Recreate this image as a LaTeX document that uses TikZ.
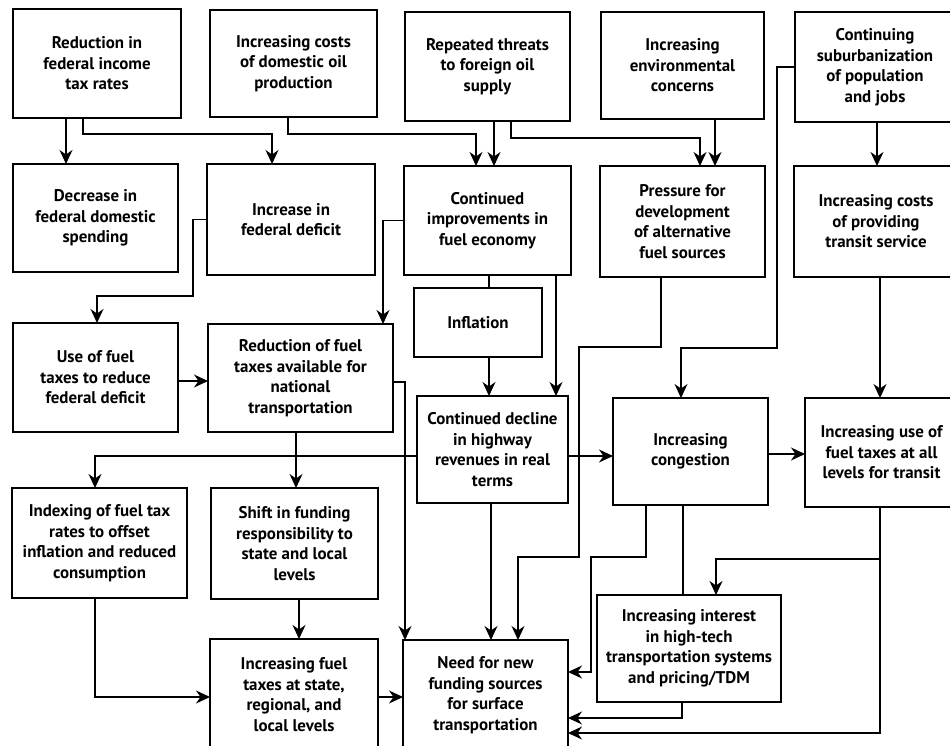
\documentclass[tikz,border=0pt]{standalone}
\usepackage{fontspec}
\setmainfont{PT Sans}
\usetikzlibrary{arrows.meta,shadows}
\newcommand\bx[6]{\node[box, minimum width={(#4-#2)*1pt}, minimum height={(#5-#3)*1pt}] (#1) at ({(#2+#4)/2},{(#3+#5)/2}) {#6};}
\begin{document}
\begin{tikzpicture}[x=1pt,y=-1pt,
 box/.style={draw, line width=1.3pt, fill=white, inner sep=1pt, outer sep=0pt, align=center,
   font=\bfseries\fontsize{16.9}{20.5}\selectfont,
   general shadow={fill=black, shadow xshift=1.2pt, shadow yshift=-1.2pt}},
 arr/.style={line width=1.3pt, -{Stealth[length=14pt,width=13pt,inset=4.5pt]}},
 ln/.style={line width=1.3pt}]
\fill[white] (0,0) rectangle (950,746);
\useasboundingbox (0,0) rectangle (950,746);
% row 1
\bx{A1}{13}{9}{181}{118}{Reduction in\\federal income\\tax rates}
\bx{A2}{210}{10}{377}{117}{Increasing costs\\of domestic oil\\production}
\bx{A3}{405}{12}{570}{121}{Repeated threats\\to foreign oil\\supply}
\bx{A4}{601}{12}{764}{119}{Increasing\\environmental\\concerns}
\bx{A5}{795}{12}{955}{122}{Continuing\\suburbanization\\of population\\and jobs}
% row 2
\bx{B1}{13}{164}{178}{272}{Decrease in\\federal domestic\\spending}
\bx{B2}{207}{164}{375}{275}{Increase in\\federal deficit}
\bx{B3}{404}{166}{571}{275}{Continued\\improvements in\\fuel economy}
\bx{B4}{600}{166}{765}{277}{Pressure for\\development\\of alternative\\fuel sources}
\bx{B5}{794}{166}{958}{277}{Increasing costs\\of providing\\transit service}
\bx{IN}{414}{288}{542}{357}{Inflation}
% row 3
\bx{C1}{13}{323}{178}{432}{Use of fuel\\taxes to reduce\\federal deficit}
\bx{C2}{208}{324}{393}{432}{Reduction of fuel\\taxes available for\\national\\transportation}
\bx{C3}{417}{396}{568}{503}{Continued decline\\in highway\\revenues in real\\terms}
\bx{C4}{613}{398}{768}{505}{Increasing\\congestion}
\bx{C5}{805}{398}{958}{507}{Increasing use of\\fuel taxes at all\\levels for transit}
% row 4
\bx{D1}{12}{488}{187}{598}{Indexing of fuel tax\\rates to offset\\inflation and reduced\\consumption}
\bx{D2}{211}{488}{378}{599}{Shift in funding\\responsibility to\\state and local\\levels}
% row 5
\bx{E1}{210}{639}{378}{750}{Increasing fuel\\taxes at state,\\regional, and\\local levels}
\bx{E2}{403}{640}{568}{750}{Need for new\\funding sources\\for surface\\transportation}
\bx{E3}{597}{595}{781}{702}{Increasing interest\\in high-tech\\transportation systems\\and pricing/TDM}
% connectors
\draw[arr] (66,0 |- A1.south) -- (66,0 |- B1.north);
\draw[arr] (83,0 |- A1.south) -- (83,134) -- (272,134) -- (272,0 |- B2.north);
\draw[arr] (288,0 |- A2.south) -- (288,134) -- (476,134) -- (476,0 |- B3.north);
\draw[arr] (494,0 |- A3.south) -- (494,0 |- B3.north);
\draw[arr] (511,0 |- A3.south) -- (511,138) -- (700,138) -- (700,0 |- B4.north);
\draw[arr] (715,0 |- A4.south) -- (715,0 |- B4.north);
\draw[arr] (877,0 |- A5.south) -- (877,0 |- B5.north);
\draw[arr] (A5.west) -- (777,0 |- A5.west) -- (777,348) -- (681,348) -- (681,0 |- C4.north);
\draw[arr] (B2.west) -- (193,0 |- B2.west) -- (193,296) -- (97,296) -- (97,0 |- C1.north);
\draw[arr] (B3.west) -- (383,0 |- B3.west) -- (383,0 |- C2.north);
\draw[ln] (489,0 |- B3.south) -- (489,0 |- IN.north);
\draw[arr] (489,0 |- IN.south) -- (489,0 |- C3.north);
\draw[arr] (556,0 |- B3.south) -- (556,0 |- C3.north);
\draw[arr] (661,0 |- B4.south) -- (661,347) -- (579,347) -- (579,557) -- (518,557) -- (518,0 |- E2.north);
\draw[arr] (880,0 |- B5.south) -- (880,0 |- C5.north);
\draw[arr] (C1.east |- 0,381) -- (C2.west |- 0,381);
\draw[arr] (C2.east |- 0,382) -- (405,382) -- (405,0 |- E2.north);
\draw[arr] (C3.west |- 0,456) -- (95,456) -- (95,0 |- D1.north);
\draw[arr] (296,0 |- C2.south) -- (296,0 |- D2.north);
\draw[arr] (C3.east |- 0,456) -- (C4.west |- 0,456);
\draw[arr] (C4.east |- 0,454) -- (C5.west |- 0,454);
\draw[arr] (299,0 |- D2.south) -- (299,0 |- E1.north);
\draw[arr] (95,0 |- D1.south) -- (95,697) -- (E1.west |- 0,697);
\draw[arr] (E1.east |- 0,697) -- (E2.west |- 0,697);
\draw[arr] (491,0 |- C3.south) -- (491,0 |- E2.north);
\draw[arr] (646,0 |- C4.south) -- (646,557) -- (591,557) -- (591,672) -- (E2.east |- 0,672);
\draw[ln] (683,0 |- C4.south) -- (683,0 |- E3.north);
\draw[arr] (880,0 |- C5.south) -- (880,733) -- (E2.east |- 0,733);
\coordinate (J1) at (880,559);
\draw[arr] (J1) -- (716,559) -- (716,0 |- E3.north);
\draw[arr] (682,0 |- E3.south) -- (682,718) -- (E2.east |- 0,718);
\end{tikzpicture}
\end{document}
